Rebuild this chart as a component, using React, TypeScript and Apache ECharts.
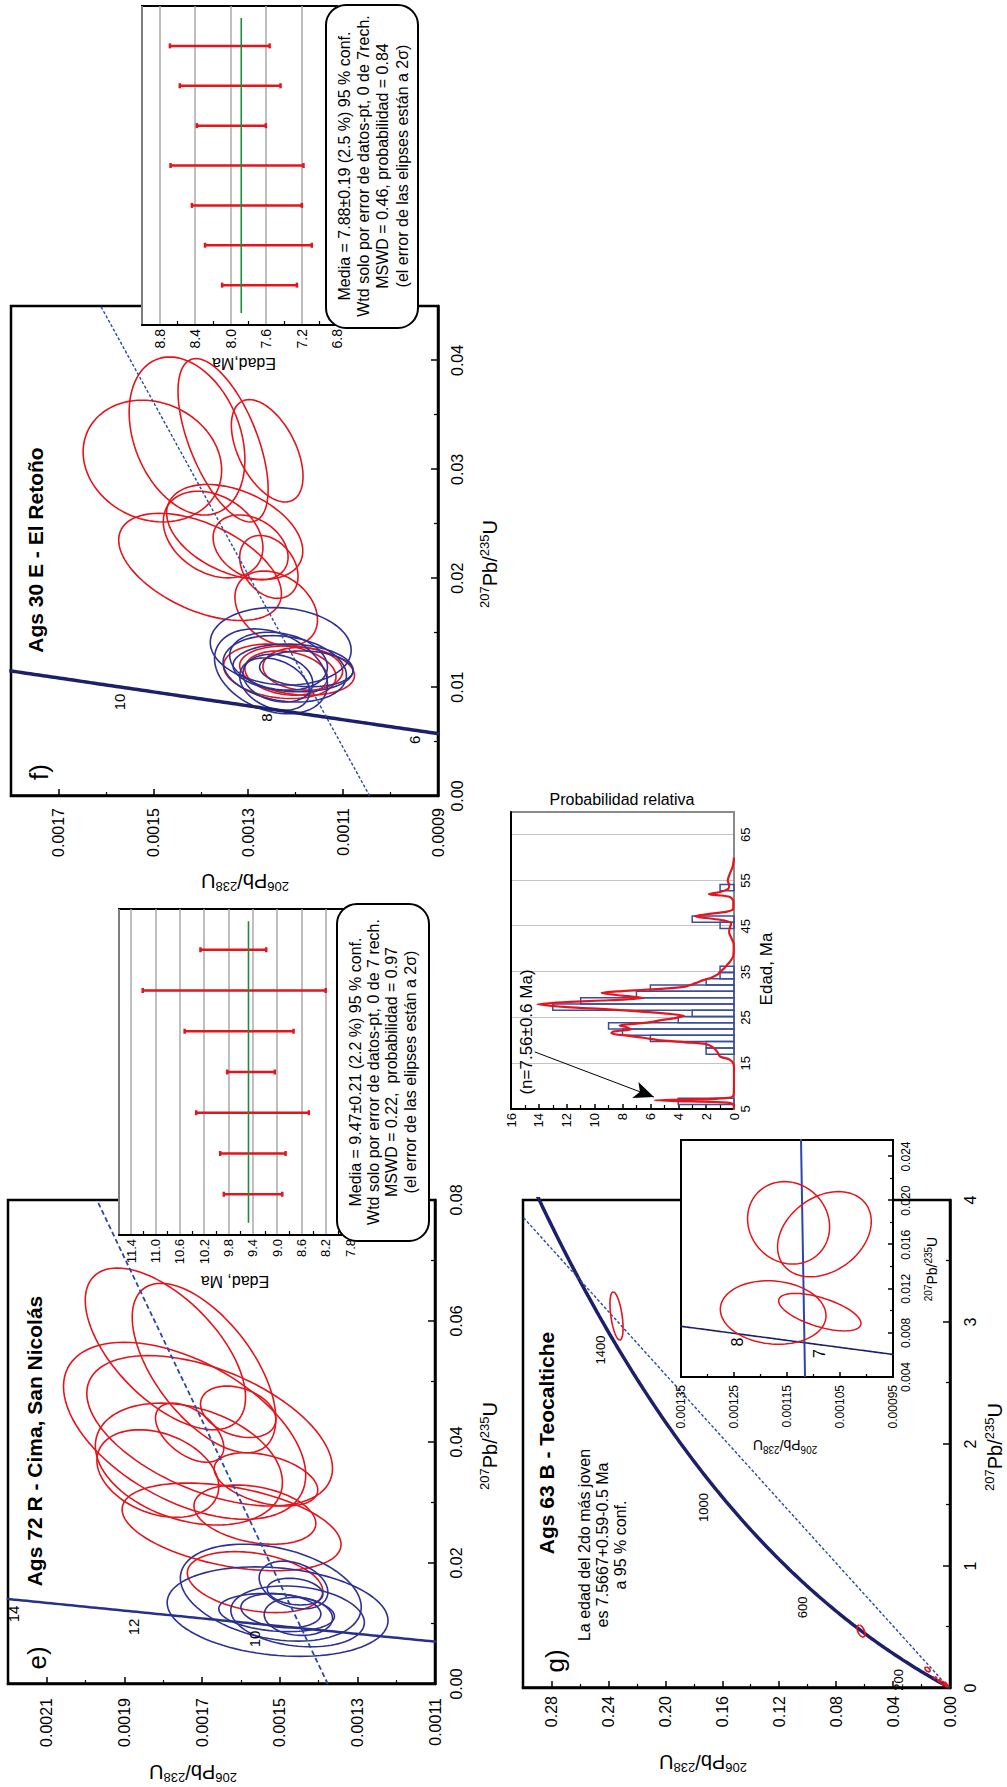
import React, { useEffect, useRef } from 'react';
import * as echarts from 'echarts';

const FONT = '"Liberation Sans", Arial, Helvetica, sans-serif';
const RED = '#e3151c';
const BLUE = '#2e3192';
const NAVY = '#1c1f6a';
const DISC = '#2a48a6';
const GREEN = '#1a8c3c';
const GREY = '#a8a8a8';

// decay constants (1/Ma)
const LAMBDA_238 = 1.55125e-4;
const LAMBDA_235 = 9.8485e-4;

// ellipses: [cx (207Pb/235U), cy (206Pb/238U), half-width x, half-height y, correlation]
const eRedEllipses = [
  [0.05539, 0.0017945, 0.01337, 0.0002065, 0.6],
  [0.05223, 0.001695, 0.014, 0.000185, 0.6],
  [0.04185, 0.001745, 0.01463, 0.000312, 0.5],
  [0.04185, 0.0016805, 0.01243, 0.0003165, 0.5],
  [0.03635, 0.001734, 0.01007, 0.000241, 0.3],
  [0.03478, 0.001814, 0.00724, 0.000157, 0.3],
  [0.04154, 0.001732, 0.00488, 0.000088, 0.5],
  [0.04499, 0.001607, 0.00425, 0.000097, 0.3],
  [0.03383, 0.0015355, 0.0044, 0.0001335, 0.4],
  [0.02597, 0.001624, 0.00724, 0.000282, 0.4],
  [0.028, 0.001564, 0.00489, 0.000157, 0.3],
  [0.01684, 0.0015635, 0.00504, 0.0001745, 0.3],
];
const eBlueEllipses = [
  [0.01196, 0.0015055, 0.0074, 0.0002845, 0.2],
  [0.0151, 0.001523, 0.00801, 0.000233, 0.3],
  [0.01181, 0.001508, 0.00315, 0.000149, 0.2],
  [0.01118, 0.001454, 0.00503, 0.000172, 0.2],
  [0.01637, 0.0014645, 0.00394, 0.0000885, 0.3],
  [0.01527, 0.0014605, 0.0022, 0.0000715, 0.2],
  [0.01118, 0.001452, 0.00315, 0.000088, 0.1],
  [0.01212, 0.001497, 0.00283, 0.000103, 0.2],
];
const fRedEllipses = [
  [0.03076, 0.001502, 0.00559, 0.000146, 0.15],
  [0.03306, 0.001429, 0.00726, 0.000122, 0.3],
  [0.03267, 0.001353, 0.0075, 0.000095, 0.6],
  [0.0317, 0.00126, 0.0047, 0.0000755, 0.5],
  [0.02104, 0.0014015, 0.00492, 0.0001715, 0.5],
  [0.02401, 0.001374, 0.00398, 0.000105, 0.3],
  [0.02424, 0.0013285, 0.00437, 0.0001435, 0.4],
  [0.02284, 0.001295, 0.00297, 0.000079, 0.3],
  [0.02104, 0.0012565, 0.00289, 0.0000615, 0.3],
  [0.01722, 0.001241, 0.00344, 0.000087, 0.3],
  [0.01145, 0.0012335, 0.0025, 0.0001185, 0.2],
  [0.01152, 0.001197, 0.00226, 0.000121, 0.2],
  [0.01129, 0.00122, 0.00203, 0.000087, 0.2],
  [0.01168, 0.001185, 0.00196, 0.000084, 0.1],
];
const fBlueEllipses = [
  [0.01375, 0.0012315, 0.00356, 0.0001485, 0.1],
  [0.01145, 0.001252, 0.0039, 0.000119, 0.3],
  [0.01168, 0.001223, 0.00305, 0.00013, 0.2],
  [0.01176, 0.0012055, 0.00219, 0.0001265, 0.1],
  [0.01082, 0.0012375, 0.00219, 0.0000735, 0.2],
  [0.01168, 0.0011775, 0.00164, 0.0000985, 0.1],
  [0.01028, 0.0012445, 0.0024, 0.0000735, 0.3],
  [0.01238, 0.001236, 0.00266, 0.000103, 0.2],
];
const gRedEllipses = [
  [3.049, 0.2343, 0.197, 0.0046, 0.5],
  [0.467, 0.0625, 0.049, 0.0028, 0.5],
  [0.152, 0.0158, 0.02, 0.0018, 0.5],
  [0.085, 0.0105, 0.008, 0.0012, 0.5],
  [0.06, 0.0075, 0.012, 0.0012, 0.6],
  [0.04, 0.005, 0.015, 0.0015, 0.6],
  [0.03, 0.003, 0.02, 0.0012, 0.7],
  [0.02, 0.002, 0.008, 0.001, 0.5],
];
const gInsetEllipses = [
  [0.00985, 0.0011761, 0.002877, 0.0000997, 0.1],
  [0.009882, 0.0010881, 0.0017, 0.0000777, 0.6],
  [0.017986, 0.001147, 0.003741, 0.0000774, 0.1],
  [0.016955, 0.0010794, 0.003864, 0.0000884, -0.3],
];

// discordia / reference lines [x, y]
const eDiscordia = [[0, 0.001376], [0.08, 0.001971]];
const fDiscordia = [[0, 0.001044], [0.045, 0.001611]];
const gDiscordia = [[0.0075, 0.00117], [3.86, 0.3]];
const gInsetLine = [[0.004, 0.001116], [0.0256, 0.0011236]];

// concordia age spans (Ma)
const eConcordiaSpan = [6.5, 14.6];
const fConcordiaSpan = [5.5, 12.5];
const gConcordiaSpan = [0, 1700];
const gInsetConcordiaSpan = [5.5, 9.5];

// concordia age labels
const eConcordiaLabels = [
  { t: '14', x: 0.01157, y: 0.002186 },
  { t: '12', x: 0.00942, y: 0.001876 },
  { t: '10', x: 0.00744, y: 0.001566 },
];
const fConcordiaLabels = [
  { t: '10', x: 0.00863, y: 0.001571 },
  { t: '8', x: 0.0072, y: 0.001261 },
  { t: '6', x: 0.00517, y: 0.00095 },
];
const gConcordiaLabels = [
  { t: '200', x: 0.066, y: 0.0365 },
  { t: '600', x: 0.66, y: 0.1033 },
  { t: '1000', x: 1.48, y: 0.1735 },
  { t: '1400', x: 2.77, y: 0.2459 },
];
const gInsetConcordiaLabels = [
  { t: '8', x: 0.00718, y: 0.001244 },
  { t: '7', x: 0.00613, y: 0.001088 },
];

// weighted mean plots: [position, upper age, lower age]
const eMeanBars = [
  [1, 9.876, 8.914], [2, 9.935, 8.86], [3, 10.33, 8.477], [4, 9.82, 9.036],
  [5, 10.52, 8.729], [6, 11.21, 8.2], [7, 10.26, 9.178],
];
const eMeanAge = 9.47;
const fMeanBars = [
  [1, 8.096, 7.252], [2, 8.289, 7.085], [3, 8.437, 7.197], [4, 8.678, 7.178],
  [5, 8.381, 7.603], [6, 8.574, 7.437], [7, 8.685, 7.56],
];
const fMeanAge = 7.88;
const meanLineSpan = [0.3, 7.7];

const eBoxLines = [
  'Media = 9.47±0.21 (2.2 %) 95 % conf.',
  'Wtd solo por error de datos-pt, 0 de 7 rech.',
  'MSWD = 0.22,  probabilidad = 0.97',
  '(el error de las elipses están a 2σ)',
];
const fBoxLines = [
  'Media = 7.88±0.19 (2.5 %) 95 % conf.',
  'Wtd solo por error de datos-pt, 0 de 7rech.',
  'MSWD = 0.46, probabilidad = 0.84',
  '(el error de las elipses están a 2σ)',
];
const gNoteLines = ['La edad del 2do más joven', 'es 7.5667+0.59-0.5 Ma', 'a 95 % conf.'];

// histogram: [bin start age (Ma), count]
const histBinWidth = 1.375;
const histBins = [
  [6.0, 4], [17.0, 2], [18.375, 2], [19.75, 6], [21.125, 8], [22.5, 9], [23.875, 4],
  [25.25, 3], [26.625, 13], [28.0, 11], [29.375, 7], [30.75, 6], [32.125, 2], [33.5, 1],
  [34.875, 1], [44.5, 1], [45.875, 3], [52.75, 1],
];
// relative probability curve [age, value in count units]
const histCurve = [
  [5, 0], [6.0, 0.05], [6.4, 0.5], [6.65, 3.0], [6.9, 5.7], [7.1, 3.0], [7.4, 0.6], [7.9, 0.05],
  [10, 0], [14, 0], [15, 0.05], [15.8, 0.3], [16.5, 1.0], [17.5, 1.2], [18.5, 1.5], [19.2, 2.0],
  [19.6, 3.5], [20.0, 5.2], [20.6, 6.5], [21.0, 7.5], [21.6, 8.8], [22.0, 8.6], [22.4, 7.4],
  [22.9, 7.7], [23.3, 8.2], [23.7, 7.0], [24.0, 6.0], [24.4, 5.3], [24.9, 4.2], [25.4, 3.6],
  [25.8, 4.6], [26.2, 6.2], [26.8, 9.0], [27.3, 12.0], [27.9, 14.1], [28.4, 12.0], [28.8, 9.0],
  [29.3, 6.5], [29.8, 8.0], [30.4, 9.5], [30.8, 8.0], [31.3, 5.3], [31.8, 3.5], [32.5, 2.8],
  [33.2, 2.2], [33.8, 1.6], [34.4, 1.2], [35.0, 1.0], [35.8, 0.7], [36.5, 0.5], [37.2, 0.3],
  [38.5, 0.05], [41, 0.02], [42.5, 0.2], [43.7, 0.35], [44.6, 0.3], [45.6, 0.2], [46.3, 0.8],
  [46.8, 2.0], [47.2, 2.8], [47.6, 2.0], [48.2, 0.5], [48.8, 0.05], [50.5, 0.05], [51.4, 0.3],
  [51.8, 1.2], [52.0, 1.8], [52.5, 1.0], [53.2, 0.4], [54, 0.35], [55, 0.45], [56.5, 0.3],
  [58, 0.1], [60, 0],
];
const histNote = { t: '(n=7.56±0.6 Ma)', x: 21.85, y: 14.92 };
const histArrow = [[17.5, 14.3], [7.6, 5.74]];

// ---------- helpers ----------
function ellipsePoints(e: number[]) {
  const [cx, cy, ax, ay, rho] = e;
  const s = Math.sqrt(1 - rho * rho);
  const pts: number[][] = [];
  for (let i = 0; i <= 96; i++) {
    const t = (i / 96) * Math.PI * 2;
    pts.push([cx + ax * Math.cos(t), cy + ay * (rho * Math.cos(t) + s * Math.sin(t))]);
  }
  return pts;
}
function concordiaPoints(span: number[], n = 120) {
  const pts: number[][] = [];
  for (let i = 0; i <= n; i++) {
    const t = span[0] + ((span[1] - span[0]) * i) / n;
    pts.push([Math.exp(LAMBDA_235 * t) - 1, Math.exp(LAMBDA_238 * t) - 1]);
  }
  return pts;
}
const ellSeries = (list: number[][], color: string, xi: number, yi: number, z: number, w = 1.6) =>
  list.map((e) => ({
    type: 'line', xAxisIndex: xi, yAxisIndex: yi, data: ellipsePoints(e), showSymbol: false,
    symbol: 'none', lineStyle: { color, width: w }, z, silent: true, clip: true,
  }));
const lineSeries = (data: number[][], color: string, width: number, xi: number, yi: number, z: number, type: any = 'solid') => ({
  type: 'line', xAxisIndex: xi, yAxisIndex: yi, data, showSymbol: false, symbol: 'none',
  lineStyle: { color, width, type }, z, silent: true, clip: true,
});
const labelSeries = (labels: { t: string; x: number; y: number }[], xi: number, yi: number, fs: number, z: number) => ({
  type: 'scatter', xAxisIndex: xi, yAxisIndex: yi, symbolSize: 0, z, silent: true,
  itemStyle: { opacity: 1 },
  data: labels.map((l) => ({ value: [l.x, l.y], name: l.t })),
  label: { show: true, position: 'inside', formatter: '{b}', fontSize: fs, color: '#000', opacity: 1, fontFamily: FONT },
});
const meanBarSeries = (bars: number[][], xi: number, yi: number) => ({
  type: 'custom', xAxisIndex: xi, yAxisIndex: yi, z: 12, silent: true, data: bars,
  renderItem: (_p: any, api: any) => {
    const x = api.value(0);
    const a = api.coord([x, api.value(1)]);
    const b = api.coord([x, api.value(2)]);
    const st = { stroke: RED, lineWidth: 2.5 };
    return {
      type: 'group',
      children: [
        { type: 'line', shape: { x1: a[0], y1: a[1], x2: b[0], y2: b[1] }, style: st },
        { type: 'line', shape: { x1: a[0] - 2.5, y1: a[1], x2: a[0] + 2.5, y2: a[1] }, style: st },
        { type: 'line', shape: { x1: b[0] - 2.5, y1: b[1], x2: b[0] + 2.5, y2: b[1] }, style: st },
      ],
    };
  },
});

function valAxis(o: any) {
  return {
    type: 'value', gridIndex: o.grid, min: o.min, max: o.max, interval: o.interval,
    position: o.position, z: o.z ?? 1, show: o.show ?? true,
    axisLine: { show: o.line ?? true, onZero: false, lineStyle: { color: o.lineColor ?? '#000', width: o.lw ?? 2.5 } },
    axisTick: { show: o.ticks ?? true, inside: true, length: o.tickLen ?? 7, lineStyle: { color: '#000', width: 1.5 } },
    minorTick: { show: o.minor ?? true, splitNumber: 2, length: o.minorLen ?? 4, lineStyle: { color: '#000', width: 1.2 } },
    axisLabel: {
      show: o.labels ?? true, fontSize: o.fs ?? 16, color: '#000', fontFamily: FONT,
      margin: o.margin ?? 12, showMaxLabel: o.showMax ?? false, formatter: o.fmt,
    },
    splitLine: { show: o.split ?? false, lineStyle: { color: o.splitColor ?? GREY, width: o.splitWidth ?? 1.5 } },
    minorSplitLine: { show: false },
  };
}

const ratioRich = (n: number, s: number) => ({
  n: { fontSize: n, fontFamily: FONT, fill: '#000', lineHeight: n + 4 },
  s: { fontSize: s, fontFamily: FONT, fill: '#000', lineHeight: s + 1, verticalAlign: 'top' },
});
const ratioText = (a: string, b: string) => `{s|${a}}{n|Pb/}{s|${b}}{n|U}`;

function txt(text: string, x: number, y: number, fs: number, extra: any = {}) {
  return {
    type: 'text', x, y, rotation: extra.rotation ?? 0, z: 50, silent: true,
    style: {
      text, fontSize: fs, fontFamily: FONT, fontWeight: extra.bold ? 'bold' : 'normal',
      fill: '#000', align: 'center', verticalAlign: 'middle', rich: extra.rich,
    },
  };
}
function ratioTitle(a: string, b: string, x: number, y: number, n: number, s: number, rot = 0) {
  return txt(ratioText(a, b), x, y, n, { rich: ratioRich(n, s), rotation: rot });
}

export default function App() {
  const ref = useRef<HTMLDivElement>(null);
  useEffect(() => {
    if (!ref.current) return;
    const chart = echarts.init(ref.current, null, { renderer: 'svg', width: 1787, height: 1007 });
    const frame = { show: true, borderColor: '#000', borderWidth: 2.5, backgroundColor: 'transparent' };
    const insetFrame = { show: true, borderColor: '#000', borderWidth: 2, backgroundColor: '#fff' };
    const grid = [
      { left: 103, top: 8, width: 484, height: 427, z: 1, ...frame },
      { left: 552, top: 119, width: 326, height: 231, z: 10, ...insetFrame },
      { left: 991, top: 11, width: 490, height: 427, z: 1, ...frame },
      { left: 1462, top: 142, width: 319, height: 195, z: 10, ...insetFrame },
      { left: 678, top: 511, width: 297, height: 223, z: 1, show: true, borderColor: '#8a8a8a', borderWidth: 2, backgroundColor: '#fff' },
      { left: 99, top: 523, width: 488, height: 427, z: 1, ...frame },
      { left: 410, top: 681, width: 237, height: 212, z: 10, ...insetFrame },
    ];
    const f2 = (v: number) => v.toFixed(2);
    const f4 = (v: number) => v.toFixed(4);
    const f1 = (v: number) => v.toFixed(1);
    const xAxis = [
      valAxis({ grid: 0, min: 0, max: 0.08, interval: 0.02, fmt: f2, margin: 13, showMax: true }),
      valAxis({ grid: 1, min: 0, max: 8, interval: 1, line: false, ticks: false, minor: false, labels: false, z: 11 }),
      valAxis({ grid: 2, min: 0, max: 0.045, interval: 0.01, fmt: f2, margin: 11 }),
      valAxis({ grid: 3, min: 0, max: 8, interval: 1, line: false, ticks: false, minor: false, labels: false, z: 11 }),
      valAxis({ grid: 4, min: 5, max: 70, interval: 10, fs: 13, margin: 5, lw: 2, lineColor: '#8a8a8a', ticks: false, minor: false, split: true, splitColor: '#c4c4c4', splitWidth: 1.2 }),
      valAxis({ grid: 4, min: 5, max: 70, interval: 10, position: 'top', lw: 2, ticks: false, minor: false, labels: false }),
      valAxis({ grid: 5, min: 0, max: 4, interval: 1, margin: 12, showMax: true }),
      valAxis({ grid: 6, min: 0.004, max: 0.0255, interval: 0.004, fs: 12, margin: 7, lw: 2, z: 11, tickLen: 5, minorLen: 3, fmt: (v: number) => v.toFixed(3) }),
    ];
    const yAxis = [
      valAxis({ grid: 0, min: 0.0011, max: 0.0022, interval: 0.0002, fmt: f4, margin: 14 }),
      valAxis({ grid: 1, min: 7.8, max: 11.6, interval: 0.4, fs: 13, margin: 4, lw: 2, z: 11, split: true, ticks: false, minorLen: 4, fmt: f1 }),
      valAxis({ grid: 2, min: 0.0009, max: 0.0018, interval: 0.0002, fmt: f4, margin: 12 }),
      valAxis({ grid: 3, min: 6.8, max: 9.0, interval: 0.4, fs: 14, margin: 4, lw: 2, z: 11, split: true, ticks: false, minorLen: 4, fmt: f1 }),
      valAxis({ grid: 4, min: 0, max: 16, interval: 2, fs: 13, margin: 4, lw: 2, tickLen: 5, minorLen: 4, showMax: true }),
      valAxis({ grid: 4, min: 0, max: 16, interval: 2, position: 'right', lw: 2, lineColor: '#8a8a8a', ticks: false, minor: false, labels: false }),
      valAxis({ grid: 5, min: 0, max: 0.3, interval: 0.04, fmt: f2, margin: 8 }),
      valAxis({ grid: 6, min: 0.00095, max: 0.00135, interval: 0.0001, fs: 12, margin: 8, lw: 2, z: 11, tickLen: 5, minorLen: 3, showMax: true, fmt: (v: number) => v.toFixed(5) }),
    ];

    const series: any[] = [
      // e) main
      ...ellSeries(eRedEllipses, RED, 0, 0, 2),
      ...ellSeries(eBlueEllipses, BLUE, 0, 0, 3),
      lineSeries(concordiaPoints(eConcordiaSpan), '#27318a', 2.5, 0, 0, 4),
      lineSeries(eDiscordia, DISC, 1.8, 0, 0, 4, [5, 3]),
      labelSeries(eConcordiaLabels, 0, 0, 15, 5),
      // e) inset
      meanBarSeries(eMeanBars, 1, 1),
      lineSeries([[meanLineSpan[0], eMeanAge], [meanLineSpan[1], eMeanAge]], GREEN, 1.6, 1, 1, 13),
      // f) main
      ...ellSeries(fRedEllipses, RED, 2, 2, 2),
      ...ellSeries(fBlueEllipses, BLUE, 2, 2, 3),
      lineSeries(concordiaPoints(fConcordiaSpan), NAVY, 3.5, 2, 2, 4),
      lineSeries(fDiscordia, DISC, 1.4, 2, 2, 4, [3, 2]),
      labelSeries(fConcordiaLabels, 2, 2, 15, 5),
      // f) inset
      meanBarSeries(fMeanBars, 3, 3),
      lineSeries([[meanLineSpan[0], fMeanAge], [meanLineSpan[1], fMeanAge]], GREEN, 1.6, 3, 3, 13),
      // histogram
      {
        type: 'custom', xAxisIndex: 4, yAxisIndex: 4, z: 3, silent: true,
        data: histBins.map(([x0, c]) => [x0, x0 + histBinWidth, c]),
        renderItem: (_p: any, api: any) => {
          const tl = api.coord([api.value(0), api.value(2)]);
          const br = api.coord([api.value(1), 0]);
          return {
            type: 'rect',
            shape: { x: tl[0], y: tl[1], width: br[0] - tl[0], height: br[1] - tl[1] },
            style: { fill: 'none', stroke: '#3a4da0', lineWidth: 1.5 },
          };
        },
      },
      {
        type: 'line', xAxisIndex: 4, yAxisIndex: 4, data: histCurve, showSymbol: false, symbol: 'none',
        smooth: 0.3, lineStyle: { color: '#e8141c', width: 2.2 }, z: 4, silent: true,
        markLine: {
          silent: true, symbol: ['none', 'arrow'], symbolSize: [13, 20], label: { show: false },
          lineStyle: { color: '#000', width: 1, type: 'solid' },
          data: [[{ coord: histArrow[0] }, { coord: histArrow[1] }]],
        },
      },
      labelSeries([histNote], 4, 4, 17, 6),
      // g) main
      lineSeries(concordiaPoints(gConcordiaSpan, 200), NAVY, 3.5, 6, 6, 3),
      lineSeries(gDiscordia, DISC, 1.4, 6, 6, 3, [3, 2]),
      ...ellSeries(gRedEllipses, RED, 6, 6, 4),
      labelSeries(gConcordiaLabels, 6, 6, 13, 5),
      // g) inset
      lineSeries(concordiaPoints(gInsetConcordiaSpan), NAVY, 1.6, 7, 7, 12),
      lineSeries(gInsetLine, '#2a46b0', 2, 7, 7, 12),
      ...ellSeries(gInsetEllipses, RED, 7, 7, 13, 1.5),
      labelSeries(gInsetConcordiaLabels, 7, 7, 16, 14),
    ];

    const boxText = (lines: string[], cx: number, ys: number[]) => lines.map((l, i) => txt(l, cx, ys[i], 16));
    const graphic: any[] = [
      // e)
      txt('e)', 129, 37, 26),
      txt('Ags 72 R - Cima, San Nicolás', 346, 34, 21, { bold: true }),
      ratioTitle('207', '235', 341, 490, 20, 13),
      ratioTitle('206', '238', 15, 193, 20, 13, Math.PI / 2),
      txt('Edad, Ma', 506, 235, 16, { rotation: Math.PI / 2 }),
      { type: 'rect', z: 40, silent: true, shape: { x: 546, y: 337, width: 337, height: 92, r: 20 }, style: { fill: '#fff', stroke: '#000', lineWidth: 2 } },
      ...boxText(eBoxLines, 715, [355, 373, 391, 410]),
      // f)
      txt('f)', 1015, 39, 26),
      txt('Ags 30 E - El Retoño', 1237, 35, 21, { bold: true }),
      ratioTitle('207', '235', 1223, 490, 20, 13),
      ratioTitle('206', '238', 906, 245, 20, 13, Math.PI / 2),
      txt('Edad,Ma', 1424, 244, 16, { rotation: Math.PI / 2 }),
      { type: 'rect', z: 40, silent: true, shape: { x: 1459, y: 326, width: 323, height: 92, r: 20 }, style: { fill: '#fff', stroke: '#000', lineWidth: 2 } },
      ...boxText(fBoxLines, 1621, [344, 363, 382, 402]),
      // histogram
      txt('Probabilidad relativa', 988, 622, 16, { rotation: -Math.PI / 2 }),
      txt('Edad, Ma', 818, 766, 17),
      // g)
      txt('g)', 126, 555, 26),
      txt('Ags 63 B - Teocaltiche', 344, 546, 21, { bold: true }),
      ...gNoteLines.map((l, i) => txt(l, 242, 584 + i * 18, 16)),
      ratioTitle('207', '235', 340, 995, 20, 13),
      ratioTitle('206', '238', 25, 703, 20, 13, Math.PI / 2),
      ratioTitle('207', '235', 518, 932, 14, 10),
      ratioTitle('206', '238', 342, 785, 14, 10, Math.PI / 2),
    ];

    chart.setOption({
      animation: false,
      backgroundColor: '#fff',
      textStyle: { fontFamily: FONT },
      grid, xAxis, yAxis, series, graphic,
    });
    return () => chart.dispose();
  }, []);

  return (
    <div style={{ position: 'fixed', left: 0, top: 0, width: 1007, height: 1787, overflow: 'hidden', background: '#fff' }}>
      <div
        ref={ref}
        style={{
          position: 'absolute', left: 0, top: 0, width: 1787, height: 1007,
          transformOrigin: '0 0', transform: 'translate(0px, 1787px) rotate(-90deg)',
        }}
      />
    </div>
  );
}
